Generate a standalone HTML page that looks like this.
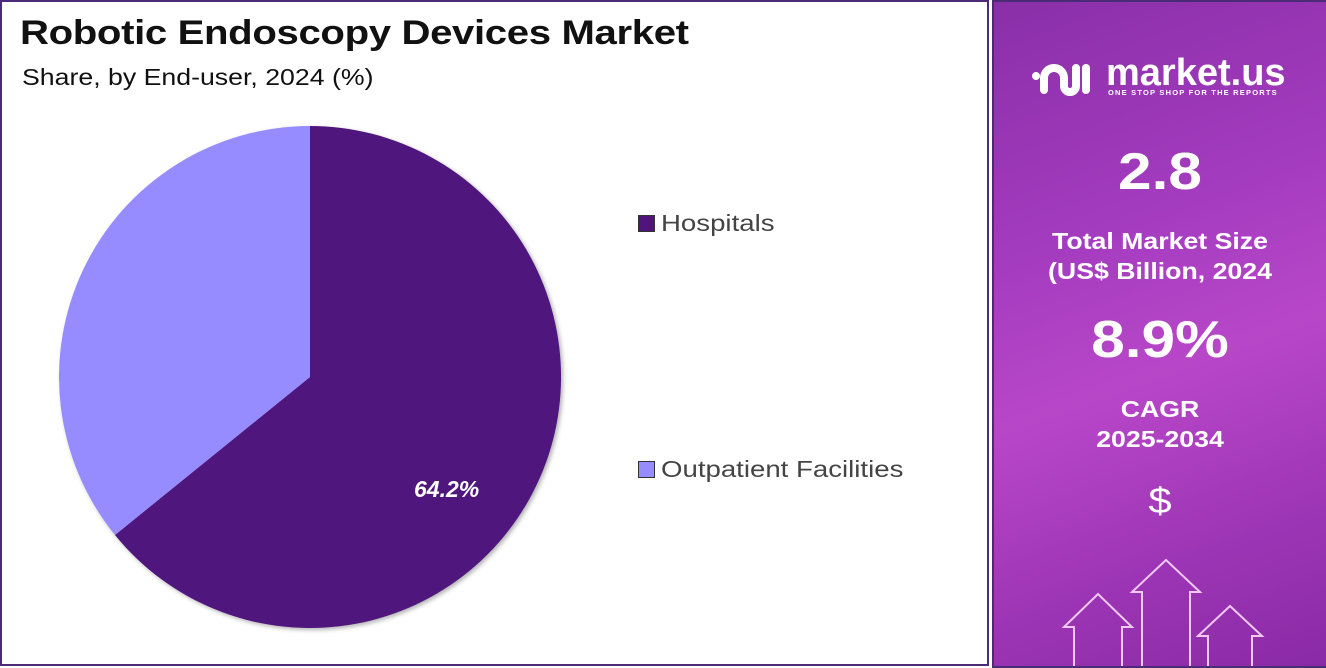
<!DOCTYPE html>
<html><head><style>
body{margin:0;width:1326px;height:668px;background:#fff;position:relative;overflow:hidden;font-family:"Liberation Sans",sans-serif}
.left{position:absolute;left:0;top:0;width:985px;height:662px;border:2px solid #4b2a78;background:#fff}
.right{position:absolute;left:992px;top:0;width:332px;height:664px;border:2px solid #4b2a78;background:linear-gradient(160deg,#8a2fa8 0%,#a53cc0 35%,#b847c8 55%,#9c35b5 80%,#8a2aa5 100%);color:#fff;text-align:center}
.t{position:absolute;left:18px;top:12px;font-size:34px;font-weight:bold;color:#111;letter-spacing:-0.3px;transform:scaleX(1.18);transform-origin:0 0;white-space:nowrap}
.s{position:absolute;left:20px;top:62px;font-size:23px;color:#111;transform:scaleX(1.16);transform-origin:0 0;white-space:nowrap}
.lg{position:absolute;font-size:23px;color:#444;white-space:nowrap}
.lg i{display:inline-block;width:15px;height:15px;border:1px solid #333;margin-right:6px;vertical-align:-1px}
.lg span{display:inline-block;transform:scaleX(1.2);transform-origin:0 50%}
.r{position:absolute;left:0;width:332px;font-weight:bold;transform:scaleX(1.16)}
</style></head><body>
<div class="left">
<div class="t">Robotic Endoscopy Devices Market</div>
<div class="s">Share, by End-user, 2024 (%)</div>
<svg width="985" height="662" style="position:absolute;left:0;top:0">
<defs><filter id="sh"><feDropShadow dx="2" dy="2" stdDeviation="2" flood-opacity="0.3"/></filter></defs>
<g filter="url(#sh)">
<path d="M308 375 L308 124 A251 251 0 1 1 113 533 Z" fill="#4f157d"/>
<path d="M308 375 L113 533 A251 251 0 0 1 308 124 Z" fill="#978cff"/>
</g>
<text x="412" y="495" fill="#fff" font-size="23" font-weight="bold" font-style="italic" font-family="Liberation Sans">64.2%</text>
</svg>
<div class="lg" style="left:636px;top:208px"><i style="background:#4f157d"></i><span>Hospitals</span></div>
<div class="lg" style="left:636px;top:454px"><i style="background:#978cff"></i><span>Outpatient Facilities</span></div>
</div>
<div class="right">
<svg width="80" height="50" style="position:absolute;left:36px;top:52px" fill="none" stroke="#fff" stroke-width="8" stroke-linecap="round">
<circle cx="6" cy="22" r="4" fill="#fff" stroke="none"/>
<path d="M14 36 V24 a10 10 0 0 1 20 0 V32 a6 6 0 0 0 12 0 V14"/>
<path d="M56 14 V36"/>
</svg>
<div style="position:absolute;left:112px;top:50px;font-size:38px;font-weight:bold;white-space:nowrap">market.us</div>
<div style="position:absolute;left:114px;top:86px;font-size:7.5px;font-weight:bold;letter-spacing:1.2px;white-space:nowrap">ONE STOP SHOP FOR THE REPORTS</div>
<div class="r" style="top:140px;font-size:52px">2.8</div>
<div class="r" style="top:224px;font-size:23px;line-height:30px">Total Market Size<br>(US$ Billion, 2024</div>
<div class="r" style="top:308px;font-size:52px">8.9%</div>
<div class="r" style="top:392px;font-size:23px;line-height:30px">CAGR<br>2025-2034</div>
<div class="r" style="top:478px;font-size:36px;font-weight:normal">$</div>
<svg width="332" height="664" style="position:absolute;left:0;top:0" fill="none" stroke="#f0c8f0" stroke-width="2">
<path d="M80 664 V625 H70 L104 592 L138 625 H128 V664"/>
<path d="M148 664 V590 H138 L172 558 L206 590 H196 V664"/>
<path d="M214 664 V634 H204 L236 604 L268 634 H258 V664"/>
</svg>
</div>
</body></html>
